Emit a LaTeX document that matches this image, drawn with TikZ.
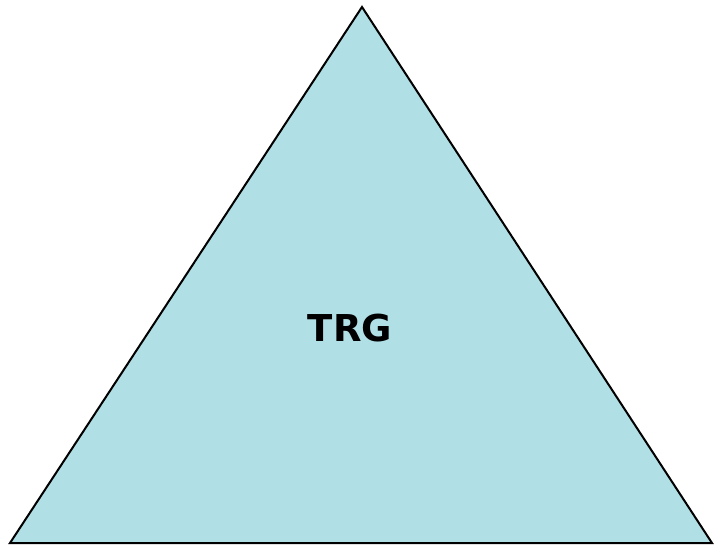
\documentclass[tikz,border=0pt]{standalone}
\usepackage{fontspec}
\newfontfamily\labelfont{DejaVu Sans}
\definecolor{trifill}{HTML}{B0E0E6}
\begin{document}
\begin{tikzpicture}[x=1pt,y=-1pt,
  tri/.style={draw=black,fill=trifill,line width=2pt,line join=miter},
  lbl/.style={font=\labelfont\bfseries\fontsize{37}{40}\selectfont,text=black,inner sep=0pt}]
\useasboundingbox (0,0) rectangle (714,545);
\coordinate (apex) at (362,7);
\coordinate (bl) at (10,543);
\coordinate (br) at (712,543);
\draw[tri] (apex) -- (br) -- (bl) -- cycle;
\node[lbl] (trg) at (350,328) {TRG};
\end{tikzpicture}
\end{document}
